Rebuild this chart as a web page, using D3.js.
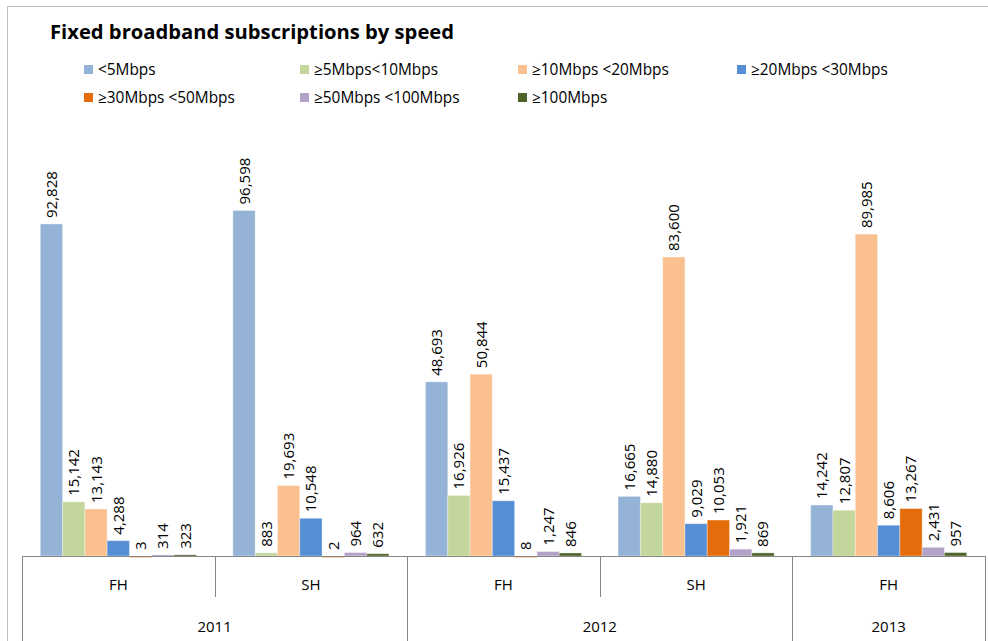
<!DOCTYPE html>
<html>
<head>
<meta charset="utf-8">
<script src="https://cdn.jsdelivr.net/npm/d3@7"></script>
<style>
  body { margin: 0; background: #fff; }
  svg { display: block; font-family: "Open Sans", "Noto Sans", sans-serif; }
</style>
</head>
<body>
<div id="container"></div>
<script>
/* DATA */
const years = ["2011", "2011", "2012", "2012", "2013"];
const halves = ["FH", "SH", "FH", "SH", "FH"];
const speeds = ["<5Mbps", "≥5Mbps<10Mbps", "≥10Mbps <20Mbps", "≥20Mbps <30Mbps",
                "≥30Mbps <50Mbps", "≥50Mbps <100Mbps", "≥100Mbps"];
const colors = ["#95b3d7", "#c3d69b", "#fac090", "#558ed5", "#e46c0a", "#b3a2c7", "#4f6228"];

// one array per speed band, one value per half-year
const lt5 =     [92828, 96598, 48693, 16665, 14242];
const s5to10 =  [15142,   883, 16926, 14880, 12807];
const s10to20 = [13143, 19693, 50844, 83600, 89985];
const s20to30 = [ 4288, 10548, 15437,  9029,  8606];
const s30to50 = [    3,     2,     8, 10053, 13267];
const s50to100 = [ 314,   964,  1247,  1921,  2431];
const s100 =    [  323,   632,   846,   869,   957];
const series = [lt5, s5to10, s10to20, s20to30, s30to50, s50to100, s100];

/* SIZES */
const width = 988, height = 641;
const baseY = 556;

const svg = d3.select("#container").append("svg")
  .attr("width", width)
  .attr("height", height);

// outer chart border (Excel style)
svg.append("path")
  .attr("d", `M7.5,${height} V6.5 H${width}`)
  .attr("fill", "none")
  .attr("stroke", "#bfbfbf");

// title
svg.append("text")
  .attr("x", 50)
  .attr("y", 39)
  .attr("font-size", 20.2)
  .attr("font-weight", "bold")
  .attr("fill", "#000")
  .text("Fixed broadband subscriptions by speed");

// legend
const legendX = [84, 300, 518, 737];
const legend = svg.append("g").selectAll("g")
  .data(speeds)
  .join("g")
  .attr("transform", (d, i) => `translate(${legendX[i % 4]}, ${i < 4 ? 70 : 98})`);

legend.append("rect")
  .attr("x", 0).attr("y", -5)
  .attr("width", 9).attr("height", 9)
  .attr("fill", (d, i) => colors[i]);

legend.append("text")
  .attr("x", 14).attr("y", 0)
  .attr("dy", "0.35em")
  .attr("font-size", 15.4)
  .attr("fill", "#000")
  .text(d => d);

/* SCALES */
const groups = d3.range(years.length);
const x0 = d3.scaleBand()
  .domain(groups)
  .range([22, 985])
  .paddingInner(0);

const x1 = d3.scaleBand()
  .domain(d3.range(speeds.length))
  .range([0, x0.bandwidth()])
  .paddingInner(0)
  .paddingOuter(0.82);

const y = d3.scaleLinear()
  .domain([0, 100000])
  .range([baseY, 198.3]);

/* BARS */
const groupG = svg.append("g").selectAll("g")
  .data(groups)
  .join("g")
  .attr("transform", g => `translate(${x0(g)}, 0)`);

const cells = groupG.selectAll("g")
  .data(g => series.map((s, i) => ({ i, v: s[g] })))
  .join("g");

cells.append("rect")
  .attr("x", d => x1(d.i))
  .attr("y", d => y(d.v))
  .attr("width", x1.bandwidth())
  .attr("height", d => Math.max(baseY - y(d.v), 1.5))
  .attr("fill", d => colors[d.i])
  .attr("stroke", "rgba(255,255,255,0.35)")
  .attr("stroke-width", 1);

// value labels, rotated
cells.append("text")
  .attr("transform", d => `translate(${x1(d.i) + x1.bandwidth() / 2 + 5.5}, ${y(d.v) - 6}) rotate(-90)`)
  .attr("font-size", 15)
  .attr("fill", "#000")
  .text(d => d3.format(",")(d.v));

/* CATEGORY AXIS (two levels) */
const axisColor = "#868686";
svg.append("line")
  .attr("x1", 22).attr("x2", 985)
  .attr("y1", baseY + 0.5).attr("y2", baseY + 0.5)
  .attr("stroke", axisColor);

const edges = groups.map(g => x0(g)).concat([x0(groups[groups.length - 1]) + x0.bandwidth()]);
svg.append("g").selectAll("line")
  .data(edges)
  .join("line")
  .attr("x1", d => Math.round(d) + 0.5)
  .attr("x2", d => Math.round(d) + 0.5)
  .attr("y1", baseY)
  .attr("y2", (d, i) => (i === 0 || i === edges.length - 1 || years[i] !== years[i - 1]) ? height : 597)
  .attr("stroke", axisColor);

svg.append("g").selectAll("text")
  .data(groups)
  .join("text")
  .attr("x", g => x0(g) + x0.bandwidth() / 2)
  .attr("y", 585)
  .attr("dy", "0.35em")
  .attr("text-anchor", "middle")
  .attr("font-size", 15)
  .text(g => halves[g]);

// year labels centred under their halves
const yearList = Array.from(new Set(years));
svg.append("g").selectAll("text")
  .data(yearList)
  .join("text")
  .attr("x", yr => {
    const idx = groups.filter(g => years[g] === yr);
    return (x0(idx[0]) + x0(idx[idx.length - 1]) + x0.bandwidth()) / 2;
  })
  .attr("y", 627)
  .attr("dy", "0.35em")
  .attr("text-anchor", "middle")
  .attr("font-size", 15)
  .text(d => d);
</script>
</body>
</html>
